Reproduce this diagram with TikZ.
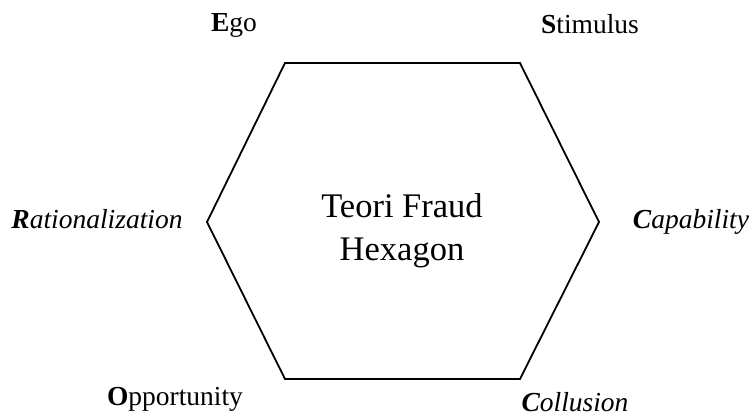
\documentclass[tikz,border=0pt]{standalone}
\usepackage{fontspec}
\setmainfont{Liberation Serif}
\tikzset{
  lbl/.style={anchor=base, inner sep=0pt, font=\fontsize{27.5}{33}\selectfont},
  title/.style={anchor=base, inner sep=0pt, align=center, font=\fontsize{34.5}{43}\selectfont},
  hexline/.style={line width=1.8pt, line join=miter}
}
\begin{document}
\begin{tikzpicture}[x=1pt,y=-1pt]
\useasboundingbox (0,0) rectangle (753,416);
\coordinate (tl) at (285,63);
\coordinate (tr) at (520,63);
\coordinate (r) at (599,222);
\coordinate (br) at (520,379);
\coordinate (bl) at (285,379);
\coordinate (l) at (207,222);
\draw[hexline] (tl) -- (tr) -- (r) -- (br) -- (bl) -- (l) -- cycle;
\node[title] (center) at (402,260) {Teori Fraud\\Hexagon};
\node[lbl] (ego) at (234,31) {\textbf{E}go};
\node[lbl] (stim) at (590,33) {\textbf{S}timulus};
\node[lbl] (rat) at (97,228) {\textit{\textbf{R}ationalization}};
\node[lbl] (cap) at (691,228) {\textit{\textbf{C}apability}};
\node[lbl] (opp) at (175,405) {\textbf{O}pportunity};
\node[lbl] (col) at (575,411) {\textit{\textbf{C}ollusion}};
\end{tikzpicture}
\end{document}
